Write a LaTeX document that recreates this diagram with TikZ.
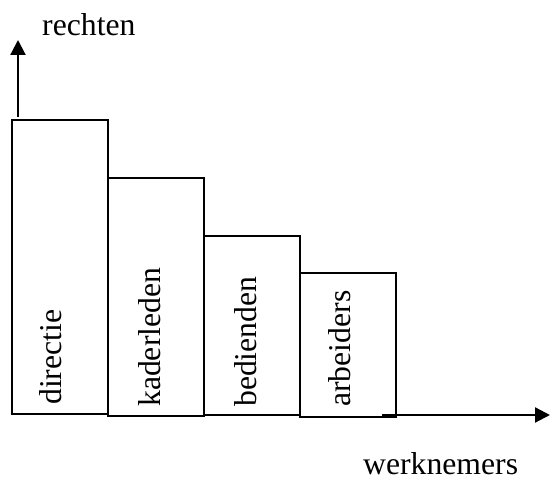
\documentclass[tikz,border=0pt]{standalone}
\usepackage{fontspec}
\setmainfont{Liberation Serif}
\usetikzlibrary{arrows.meta}

\begin{document}
\begin{tikzpicture}[x=1pt,y=1pt,
  bar/.style={draw, line width=1.8pt, rectangle, inner sep=0pt, anchor=south west},
  barlabel/.style={rotate=90, anchor=base west, inner sep=0pt, font=\fontsize{31.7}{36}\selectfont},
  axislabel/.style={anchor=base west, inner sep=0pt, font=\fontsize{31.7}{36}\selectfont},
  axis/.style={line width=2.2pt, -{Triangle[length=15pt,width=15pt]}}]
  \useasboundingbox (0,0) rectangle (550,481);

  % staircase of groups
  \node[bar, minimum width=96pt, minimum height=294pt] (directie) at (11,66) {};
  \node[bar, minimum width=96pt, minimum height=238pt] (kader) at (107,64) {};
  \node[bar, minimum width=96pt, minimum height=179pt] (bedienden) at (203,65) {};
  \node[bar, minimum width=96pt, minimum height=144pt] (arbeiders) at (299,63) {};

  % vertical labels inside the bars
  \node[barlabel] (tdirectie) at (61,76) {directie};
  \node[barlabel] (tkader) at (160,74) {kaderleden};
  \node[barlabel] (tbedienden) at (256,74) {bedienden};
  \node[barlabel] (tarbeiders) at (350,74) {arbeiders};

  % axes
  \coordinate (ystart) at (18,364);
  \coordinate (yend) at (18,441);
  \coordinate (xstart) at (382,66);
  \coordinate (xend) at (550,66);
  \draw[axis] (ystart) -- (yend);
  \draw[axis] (xstart) -- (xend);

  \node[axislabel] (rechten) at (42,445) {rechten};
  \node[axislabel] (werknemers) at (363,6) {werknemers};
\end{tikzpicture}
\end{document}
